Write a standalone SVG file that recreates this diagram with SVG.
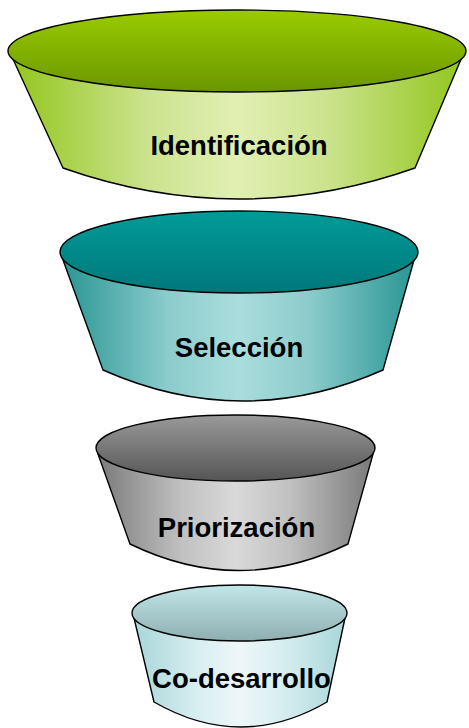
<svg xmlns="http://www.w3.org/2000/svg" width="469" height="728" viewBox="0 0 469 728">
<style>
.edge{stroke:#000;stroke-width:1.4;stroke-linejoin:round}
.lbl{font-family:"Liberation Sans",Arial,sans-serif;font-weight:bold;font-size:27.5px;fill:#000;text-anchor:middle}
</style>
<defs>
<linearGradient id="b1" x1="0" y1="0" x2="1" y2="0">
<stop offset="0" stop-color="#93c61e"/><stop offset="0.3" stop-color="#cbe38e"/><stop offset="0.5" stop-color="#e2efb3"/><stop offset="0.7" stop-color="#cbe38e"/><stop offset="1" stop-color="#93c61e"/>
</linearGradient>
<linearGradient id="t1" x1="0" y1="0" x2="0" y2="1">
<stop offset="0" stop-color="#9acc00"/><stop offset="1" stop-color="#6a9600"/>
</linearGradient>
<linearGradient id="b2" x1="0" y1="0" x2="1" y2="0">
<stop offset="0" stop-color="#2a9694"/><stop offset="0.3" stop-color="#8ccccc"/><stop offset="0.5" stop-color="#abdddd"/><stop offset="0.7" stop-color="#8ccccc"/><stop offset="1" stop-color="#2a9694"/>
</linearGradient>
<linearGradient id="t2" x1="0" y1="0" x2="0" y2="1">
<stop offset="0" stop-color="#009b98"/><stop offset="1" stop-color="#00787a"/>
</linearGradient>
<linearGradient id="b3" x1="0" y1="0" x2="1" y2="0">
<stop offset="0" stop-color="#7a7a7a"/><stop offset="0.3" stop-color="#c0c0c0"/><stop offset="0.5" stop-color="#d9d9d9"/><stop offset="0.7" stop-color="#c0c0c0"/><stop offset="1" stop-color="#7a7a7a"/>
</linearGradient>
<linearGradient id="t3" x1="0" y1="0" x2="0" y2="1">
<stop offset="0" stop-color="#9a9a9a"/><stop offset="1" stop-color="#555555"/>
</linearGradient>
<linearGradient id="b4" x1="0" y1="0" x2="1" y2="0">
<stop offset="0" stop-color="#a8d6da"/><stop offset="0.3" stop-color="#d8eef0"/><stop offset="0.5" stop-color="#edf7f8"/><stop offset="0.7" stop-color="#d8eef0"/><stop offset="1" stop-color="#a8d6da"/>
</linearGradient>
<linearGradient id="t4" x1="0" y1="0" x2="0" y2="1">
<stop offset="0" stop-color="#c2e6e9"/><stop offset="1" stop-color="#8eafb2"/>
</linearGradient>
</defs>
<g id="identificacion">
<path class="edge" fill="url(#b1)" d="M12,57 L63,168 Q239,230 415,168 L462,57 Z"/>
<ellipse class="edge" fill="url(#t1)" cx="237" cy="51" rx="229" ry="41"/>
<text class="lbl" x="239" y="155">Identificación</text>
</g>
<g id="seleccion">
<path class="edge" fill="url(#b2)" d="M63,260 L103,370 Q243,432 383,370 L414,260 Z"/>
<ellipse class="edge" fill="url(#t2)" cx="239" cy="252" rx="179" ry="41"/>
<text class="lbl" x="239" y="357">Selección</text>
</g>
<g id="priorizacion">
<path class="edge" fill="url(#b3)" d="M98,454 L130,544 Q239,597 348,544 L373,454 Z"/>
<ellipse class="edge" fill="url(#t3)" cx="235.5" cy="448" rx="139.5" ry="33"/>
<text class="lbl" x="236.5" y="537">Priorización</text>
</g>
<g id="codesarrollo">
<path class="edge" fill="url(#b4)" d="M134,618 L154,702 Q241,752 327,702 L345,618 Z"/>
<ellipse class="edge" fill="url(#t4)" cx="239.5" cy="613" rx="107.5" ry="28"/>
<text class="lbl" x="241.5" y="688">Co-desarrollo</text>
</g>
<g id="connectors"/>
</svg>
